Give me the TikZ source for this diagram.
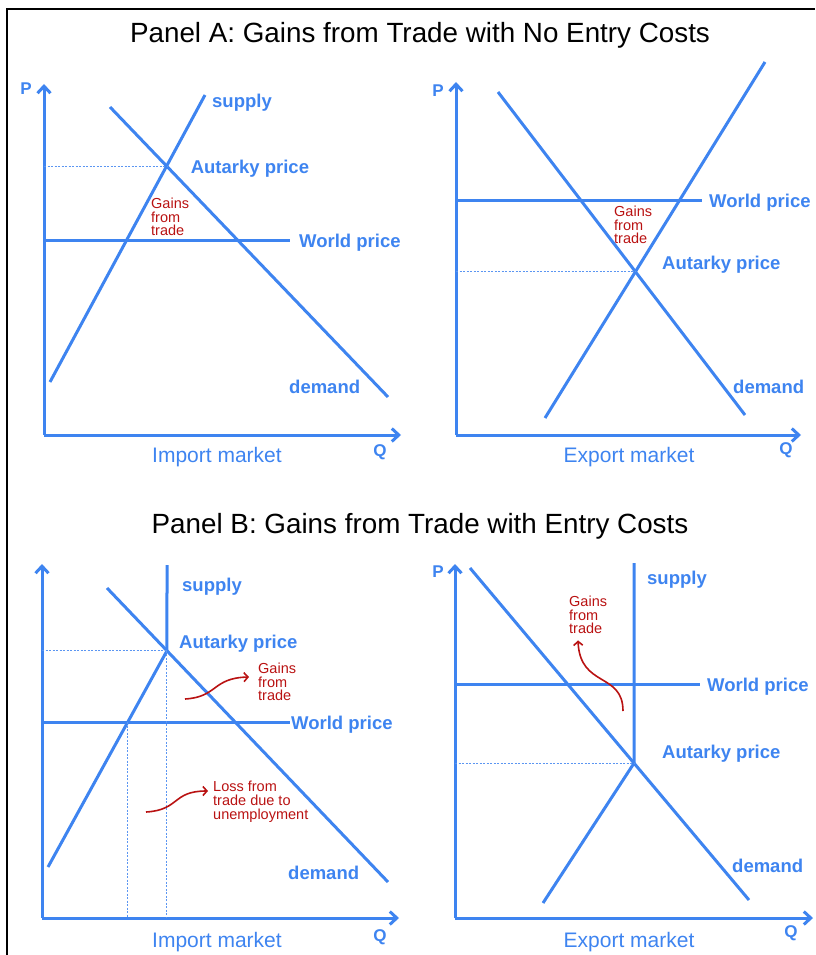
\documentclass[tikz,border=0pt]{standalone}
\usepackage{fontspec}
\setmainfont{Liberation Sans}
\usepackage{xcolor}
\usetikzlibrary{arrows.meta,positioning}
\definecolor{econblue}{RGB}{62,132,240}
\definecolor{econred}{RGB}{185,18,18}
\tikzset{
  econcurve/.style={
    draw=econblue,
    line width=3pt
  },
  econaxis/.style={
    econcurve,
    -{Straight Barb[length=7pt,width=13pt]}
  },
  guideline/.style={
    draw=econblue!85,
    line width=1pt,
    dash pattern=on 2pt off 1.5pt
  },
  curvelabel/.style={
    text=econblue,
    inner sep=0pt,
    anchor=west,
    yshift=-2.5pt,
    font=\bfseries\fontsize{18.5}{20}\selectfont
  },
  axisletter/.style={
    text=econblue,
    inner sep=0pt,
    font=\bfseries\fontsize{17}{18}\selectfont
  },
  marketlabel/.style={
    text=econblue,
    inner sep=0pt,
    yshift=-2pt,
    font=\fontsize{21}{23}\selectfont
  },
  gainnote/.style={
    text=econred,
    inner sep=0pt,
    anchor=west,
    align=left,
    font=\fontsize{14.5}{13.8}\selectfont
  },
  notearrow/.style={
    draw=econred,
    line width=1.6pt,
    -{Straight Barb[length=4pt,width=9pt]}
  },
  paneltitle/.style={
    inner sep=0pt,
    font=\fontsize{27.8}{30}\selectfont
  }
}

\begin{document}
\begin{tikzpicture}[x=1pt,y=-1pt]
\useasboundingbox (0,0) rectangle (815,955);
\draw[line width=1.5pt] (7,955) -- (7,9) -- (815,9);

\node[paneltitle] (titleA) at (420,35) {Panel A: Gains from Trade with No Entry Costs};
\node[paneltitle] (titleB) at (420,526) {Panel B: Gains from Trade with Entry Costs};

% Panel A, import market
\coordinate (oA) at (44,435);
\coordinate (pA) at (44,84);
\coordinate (qA) at (401,435);
\coordinate (supA1) at (50,382);
\coordinate (supA2) at (205,95);
\coordinate (demA1) at (110,107);
\coordinate (demA2) at (388,397);
\coordinate (wpA1) at (44,240);
\coordinate (wpA2) at (290,240);
\coordinate (autA) at (intersection of supA1--supA2 and demA1--demA2);
\draw[econaxis] (oA) -- (pA);
\draw[econaxis] (oA) -- (qA);
\draw[econcurve] (supA1) -- (supA2);
\draw[econcurve] (demA1) -- (demA2);
\draw[econcurve] (wpA1) -- (wpA2);
\draw[guideline] (oA |- autA) -- (autA);
\node[axisletter] (PA) at (26,89) {P};
\node[axisletter] (QA) at (380,452) {Q};
\node[curvelabel] (supAlab) at (212,100) {supply};
\node[curvelabel, right=24pt of autA] (autAlab) {Autarky price};
\node[curvelabel, right=9pt of wpA2] (wpAlab) {World price};
\node[curvelabel] (demAlab) at (289,384) {demand};
\node[gainnote] (gainA) at (151,217) {Gains\\from\\trade};
\node[marketlabel] (mktA) at (217,455) {Import market};

% Panel A, export market
\coordinate (oX) at (456,435);
\coordinate (pX) at (456,82);
\coordinate (qX) at (801,435);
\coordinate (supX1) at (545,418);
\coordinate (supX2) at (765,62);
\coordinate (demX1) at (498,92);
\coordinate (demX2) at (745,415);
\coordinate (wpX1) at (456,200);
\coordinate (wpX2) at (702,200);
\coordinate (autX) at (intersection of supX1--supX2 and demX1--demX2);
\draw[econaxis] (oX) -- (pX);
\draw[econaxis] (oX) -- (qX);
\draw[econcurve] (supX1) -- (supX2);
\draw[econcurve] (demX1) -- (demX2);
\draw[econcurve] (wpX1) -- (wpX2);
\draw[guideline] (oX |- autX) -- (autX);
\node[axisletter] (PX) at (438,91) {P};
\node[axisletter] (QX) at (786,450) {Q};
\node[curvelabel, right=7pt of wpX2] (wpXlab) {World price};
\node[curvelabel] (autXlab) at (662,262) {Autarky price};
\node[curvelabel] (demXlab) at (733,384) {demand};
\node[gainnote] (gainX) at (614,225) {Gains\\from\\trade};
\node[marketlabel] (mktX) at (629,455) {Export market};

% Panel B, import market
\coordinate (oB) at (42,918);
\coordinate (pB) at (42,564);
\coordinate (qB) at (399,918);
\coordinate (supB1) at (48,867);
\coordinate (vsB1) at (167,565);
\coordinate (vsB2) at (167,918);
\coordinate (demB1) at (107,588);
\coordinate (demB2) at (388,882);
\coordinate (wpB1) at (42,722);
\coordinate (wpB2) at (290,722);
\coordinate (autB) at (intersection of demB1--demB2 and vsB1--vsB2);
\coordinate (wsB) at (intersection of supB1--autB and wpB1--wpB2);
\draw[econaxis] (oB) -- (pB);
\draw[econaxis] (oB) -- (qB);
\draw[econcurve] (supB1) -- (autB) -- (vsB1);
\draw[econcurve] (demB1) -- (demB2);
\draw[econcurve] (wpB1) -- (wpB2);
\draw[guideline] (oB |- autB) -- (autB);
\draw[guideline] (autB) -- (autB |- oB);
\draw[guideline] (wsB) -- (wsB |- oB);
\node[axisletter] (QB) at (380,937) {Q};
\node[curvelabel] (supBlab) at (182,584) {supply};
\node[curvelabel] (autBlab) at (179,641) {Autarky price};
\node[curvelabel, right=1pt of wpB2] (wpBlab) {World price};
\node[curvelabel] (demBlab) at (288,870) {demand};
\node[gainnote] (gainB) at (258,682) {Gains\\from\\trade};
\node[gainnote] (lossB) at (213,802) {Loss from\\trade due to\\unemployment};
\coordinate (gainBtail) at (185,699);
\coordinate (lossBtail) at (146,812);
\draw[notearrow] (gainBtail) .. controls (218,697) and (212,678) .. ([xshift=-9pt,yshift=5pt]gainB.west);
\draw[notearrow] (lossBtail) .. controls (180,810) and (172,791) .. ([xshift=-5pt,yshift=11pt]lossB.west);
\node[marketlabel] (mktB) at (217,940) {Import market};

% Panel B, export market
\coordinate (oY) at (455,918);
\coordinate (pY) at (455,564);
\coordinate (qY) at (813,918);
\coordinate (supY1) at (543,903);
\coordinate (vsY1) at (634,563);
\coordinate (vsY2) at (634,918);
\coordinate (demY1) at (470,568);
\coordinate (demY2) at (749,900);
\coordinate (wpY1) at (455,684);
\coordinate (wpY2) at (700,684);
\coordinate (autY) at (intersection of demY1--demY2 and vsY1--vsY2);
\draw[econaxis] (oY) -- (pY);
\draw[econaxis] (oY) -- (qY);
\draw[econcurve] (supY1) -- (autY) -- (vsY1);
\draw[econcurve] (demY1) -- (demY2);
\draw[econcurve] (wpY1) -- (wpY2);
\draw[guideline] (oY |- autY) -- (autY);
\node[axisletter] (PY) at (438,572) {P};
\node[axisletter] (QY) at (791,933) {Q};
\node[curvelabel] (supYlab) at (647,577) {supply};
\node[curvelabel, right=7pt of wpY2] (wpYlab) {World price};
\node[curvelabel] (autYlab) at (662,751) {Autarky price};
\node[curvelabel] (demYlab) at (732,863) {demand};
\node[gainnote] (gainY) at (569,615) {Gains\\from\\trade};
\coordinate (gainYtail) at (623,711);
\draw[notearrow] (gainYtail) .. controls (623,672) and (580,688) .. ([xshift=9pt,yshift=-6pt]gainY.south west);
\node[marketlabel] (mktY) at (629,940) {Export market};
\end{tikzpicture}
\end{document}
